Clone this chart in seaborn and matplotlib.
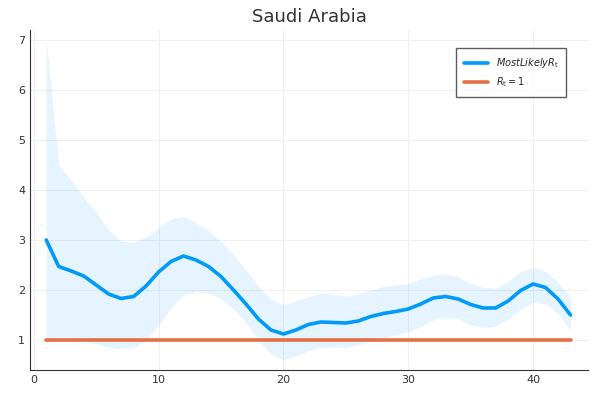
import matplotlib
matplotlib.use('Agg')
import matplotlib.pyplot as plt
import seaborn as sns
import numpy as np

sns.set_style('white')

days = list(range(1, 44))
most_likely = [3.0, 2.47, 2.38, 2.28, 2.1, 1.92, 1.83, 1.87, 2.08, 2.36, 2.57, 2.68, 2.6, 2.47,
               2.27, 2.0, 1.72, 1.42, 1.2, 1.12, 1.2, 1.31, 1.36, 1.35, 1.34, 1.38, 1.47, 1.53,
               1.57, 1.62, 1.72, 1.84, 1.87, 1.82, 1.71, 1.64, 1.64, 1.78, 1.99, 2.12, 2.05,
               1.82, 1.5]
upper = [7.0, 4.5, 4.2, 3.85, 3.55, 3.2, 2.98, 2.95, 3.05, 3.25, 3.42, 3.47, 3.35, 3.18, 2.97,
         2.7, 2.4, 2.07, 1.82, 1.7, 1.78, 1.87, 1.93, 1.91, 1.88, 1.92, 2.0, 2.07, 2.1, 2.13,
         2.22, 2.3, 2.32, 2.26, 2.13, 2.05, 2.03, 2.17, 2.37, 2.45, 2.37, 2.15, 1.85]
lower = [1.0, 1.05, 1.02, 0.98, 0.92, 0.85, 0.83, 0.85, 1.0, 1.3, 1.65, 1.9, 1.97, 1.93, 1.83,
         1.62, 1.35, 1.0, 0.72, 0.6, 0.68, 0.78, 0.85, 0.86, 0.85, 0.9, 0.98, 1.05, 1.1, 1.17,
         1.27, 1.4, 1.45, 1.42, 1.3, 1.25, 1.27, 1.42, 1.62, 1.75, 1.72, 1.53, 1.2]
threshold = [1.0] * len(days)

fig, ax = plt.subplots(figsize=(6, 4), dpi=100)
ax.fill_between(days, lower, upper, color='#009af9', alpha=0.1, linewidth=0)
sns.lineplot(x=days, y=most_likely, ax=ax, color='#009af9', linewidth=2.6,
             label=r'$MostLikelyR_\mathrm{t}$')
sns.lineplot(x=days, y=threshold, ax=ax, color='#e26f46', linewidth=2.6,
             label=r'$R_\mathrm{t}=1$')

ax.set(xlim=(-0.3, 44.4), ylim=(0.4, 7.2))
ax.set_xticks([0, 10, 20, 30, 40])
ax.set_yticks(range(1, 8))
ax.grid(True, color='#f0f0f0', linewidth=0.8)
ax.tick_params(labelsize=8, colors='#333333', length=0)
for s in ['top', 'right']:
    ax.spines[s].set_visible(False)
for s in ['left', 'bottom']:
    ax.spines[s].set_color('#333333')
    ax.spines[s].set_linewidth(0.8)
ax.set_title('Saudi Arabia', fontsize=13, color='#333333')
ax.legend(loc='upper right', bbox_to_anchor=(0.97, 0.96), fontsize=7, fancybox=False,
          edgecolor='#333333', borderpad=0.8, handlelength=2.5)

plt.subplots_adjust(left=0.05, right=0.98, bottom=0.075, top=0.925)
plt.savefig('out.png')
